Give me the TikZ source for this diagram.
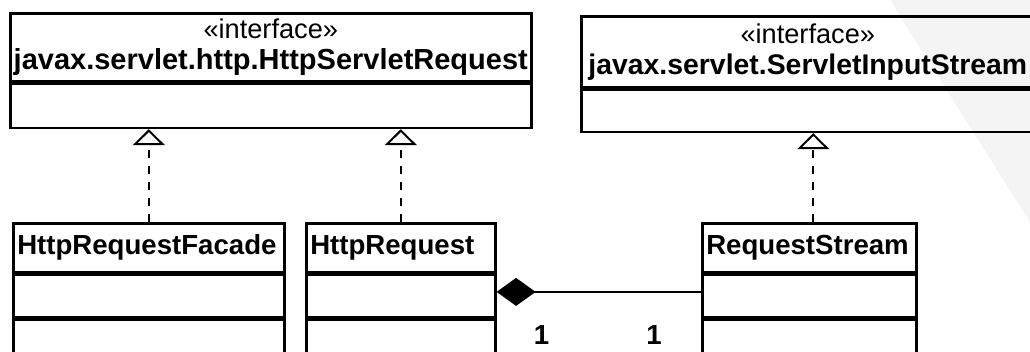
\documentclass[tikz,border=0pt]{standalone}
\usepackage{fontspec}
\setmainfont{Liberation Sans}
\usetikzlibrary{positioning, arrows.meta, calc}
\newcommand{\stereo}{\fontsize{13.6}{15.5}\selectfont\mdseries}
\tikzset{
    every node/.style={font=\fontsize{13.8}{15.5}\selectfont\bfseries},
    ifacehead/.style={draw, line width=1.3pt, anchor=north west, align=center, inner sep=1pt, font=\fontsize{14.5}{15.5}\selectfont\bfseries},
    classhead/.style={draw, line width=1.3pt, anchor=north west, align=left, inner xsep=2pt, inner ysep=1pt, minimum height=24.5pt},
    compart/.style={draw, line width=1.3pt, inner sep=0pt},
    realize/.style={-{Triangle[open, length=8pt, width=16pt, fill=white, line width=1pt]}, dash pattern=on 4pt off 4pt, line width=1pt},
    compose/.style={{Diamond[length=19.5pt, width=14pt]}-, line width=1pt},
}

\begin{document}
\begin{tikzpicture}[x=0.5pt, y=-0.5pt]
\clip (0,0) rectangle (1030,352);
\fill[gray!9] (890,0) -- (1030,0) -- (1030,222) -- cycle;
% the two interfaces on top
\node[ifacehead, minimum width=260.5pt, minimum height=34pt] (ireq) at (9,12) {\stereo«interface»\\javax.servlet.http.HttpServletRequest};
\node[compart, below=0pt of ireq, minimum width=260.5pt, minimum height=22pt] (ireqA) {};
\node[ifacehead, minimum width=226.5pt, minimum height=35.5pt, font=\fontsize{14.2}{15.5}\selectfont\bfseries] (istream) at (580,15) {\stereo«interface»\\javax.servlet.ServletInputStream};
\node[compart, below=0pt of istream, minimum width=226.5pt, minimum height=21pt] (istreamA) {};
% the classes below
\node[classhead, text width=131.5pt] (facade) at (12,222) {HttpRequestFacade};
\node[compart, below=0pt of facade, minimum width=135.5pt, minimum height=21pt] (facadeA) {};
\node[compart, below=0pt of facadeA, minimum width=135.5pt, minimum height=30pt] (facadeB) {};
\node[classhead, text width=90.5pt] (hreq) at (305,222) {HttpRequest};
\node[compart, below=0pt of hreq, minimum width=94.5pt, minimum height=21pt] (hreqA) {};
\node[compart, below=0pt of hreqA, minimum width=94.5pt, minimum height=30pt] (hreqB) {};
\node[classhead, text width=103pt] (rstream) at (701,222) {RequestStream};
\node[compart, below=0pt of rstream, minimum width=107pt, minimum height=21pt] (rstreamA) {};
\node[compart, below=0pt of rstreamA, minimum width=107pt, minimum height=30pt] (rstreamB) {};
% realizations and composition
\draw[realize] (facade.north) -- (facade.north |- ireqA.south);
\draw[realize] (hreq.north) -- (hreq.north |- ireqA.south);
\draw[realize] ([xshift=2pt]rstream.north) -- ([xshift=2pt]rstream.north |- istreamA.south);
\draw[compose] ([yshift=2pt]hreqA.east) -- ([yshift=2pt]rstreamA.west)
    node[pos=0.22, below=13pt] (mult1) {1}
    node[pos=0.77, below=13pt] (mult2) {1};
\end{tikzpicture}
\end{document}
